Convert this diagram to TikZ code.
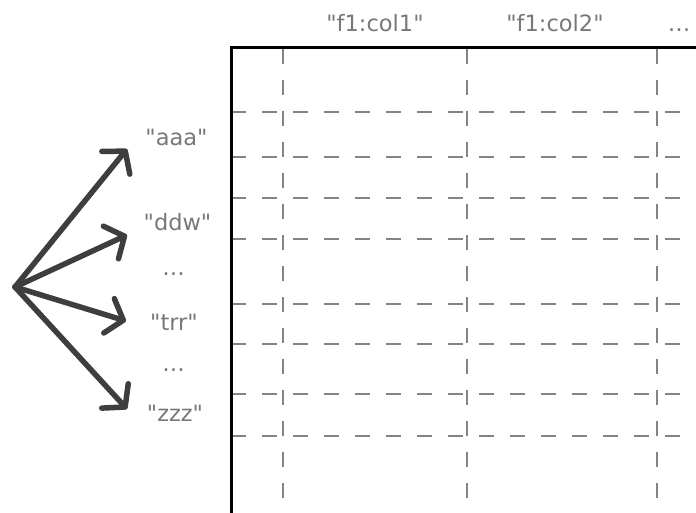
\documentclass[tikz,border=0pt]{standalone}
\usepackage{fontspec}
\setmainfont{DejaVu Sans}[Ligatures=TeXOff]
\usetikzlibrary{arrows.meta}
\definecolor{txtgray}{HTML}{787878}
\definecolor{dashgray}{HTML}{848484}
\definecolor{arrowgray}{HTML}{3E3E3E}
\tikzset{
  lbl/.style={anchor=base, text=txtgray, font=\fontsize{22.5}{26}\selectfont, inner sep=0pt},
  gridline/.style={draw=dashgray, line width=2.4pt, dash pattern=on 15pt off 16pt},
  frameline/.style={draw=black, line width=3pt},
  fanarrow/.style={draw=arrowgray, line width=5.5pt, line cap=round, line join=round,
    -{Straight Barb[length=15pt, width=36pt, line cap=round, line join=round]}}
}
\begin{document}
\begin{tikzpicture}[x=1pt, y=-1pt]
\useasboundingbox (0,0) rectangle (696,513);
% grid
\foreach \yy in {112,157,198,239,304,344,394,436} {
  \draw[gridline] (231,\yy) -- (696,\yy);
}
\foreach \xx in {283,467,657} {
  \draw[gridline] (\xx,49) -- (\xx,513);
}
\draw[frameline] (231,520) -- (231,47.5) -- (700,47.5);
% column labels
\node[lbl] (c1) at (375,31.5) {"f1:col1"};
\node[lbl] (c2) at (555,31.5) {"f1:col2"};
\node[lbl] (c3) at (679,31.5) {…};
% row labels
\node[lbl] (r1) at (176.5,146) {"aaa"};
\node[lbl] (r2) at (177.5,230) {"ddw"};
\node[lbl] (r3) at (173.5,275) {…};
\node[lbl] (r4) at (174,330.5) {"trr"};
\node[lbl] (r5) at (173.5,371.5) {…};
\node[lbl] (r6) at (175,421.5) {"zzz"};
% arrows
\coordinate (o) at (15,287);
\coordinate (t1) at (127,149);
\coordinate (t2) at (127,235);
\coordinate (t4) at (126,321);
\coordinate (t6) at (127,409);
\draw[fanarrow] (o) -- (t1);
\draw[fanarrow] (o) -- (t2);
\draw[fanarrow] (o) -- (t4);
\draw[fanarrow] (o) -- (t6);
\end{tikzpicture}
\end{document}
